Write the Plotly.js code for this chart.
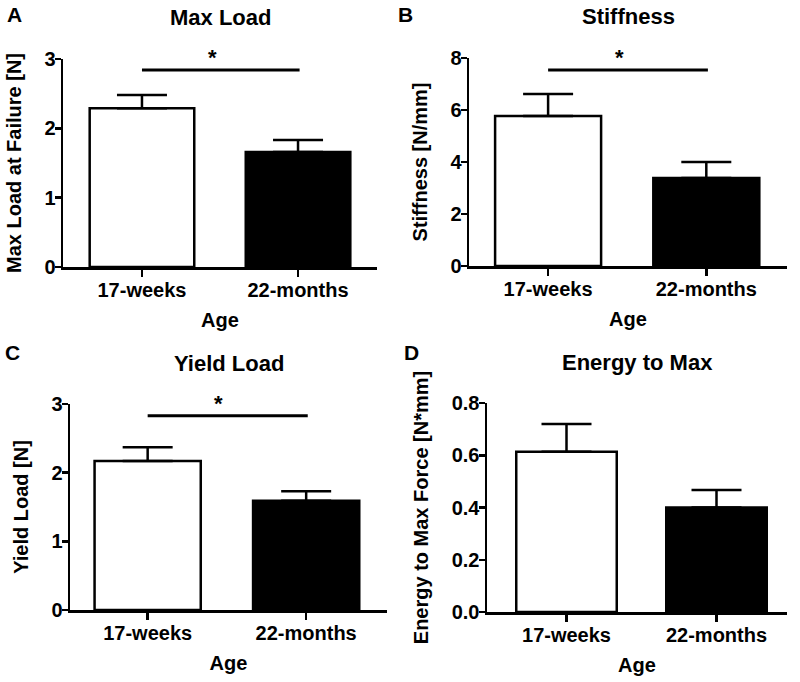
<!DOCTYPE html>
<html>
<head>
<meta charset="utf-8">
<script src="https://cdn.plot.ly/plotly-3.0.1.min.js"></script>
<style>html,body{margin:0;padding:0;background:#fff}#chart{width:800px;height:682px}</style>
</head>
<body>
<div id="chart"></div>
<script>
// ---- data ----
const categories = ['17-weeks', '22-months'];
const barColors = ['#ffffff', '#000000'];

const maxLoad = [2.29, 1.66];
const maxLoadErr = [0.19, 0.17];
const stiffness = [5.77, 3.38];
const stiffnessErr = [0.85, 0.62];
const yieldLoad = [2.17, 1.59];
const yieldLoadErr = [0.20, 0.14];
const energyMax = [0.613, 0.40];
const energyMaxErr = [0.107, 0.067];

const panelLetters = ['A', 'B', 'C', 'D'];
const panelTitles = ['Max Load', 'Stiffness', 'Yield Load', 'Energy to Max'];
const yTitles = ['Max Load at Failure [N]', 'Stiffness [N/mm]', 'Yield Load [N]', 'Energy to Max Force [N*mm]'];
const xTitle = 'Age';
const yTickVals = [[0, 1, 2, 3], [0, 2, 4, 6, 8], [0, 1, 2, 3], [0, 0.2, 0.4, 0.6, 0.8]];
const yTickText = [['0', '1', '2', '3'], ['0', '2', '4', '6', '8'], ['0', '1', '2', '3'], ['0.0', '0.2', '0.4', '0.6', '0.8']];
const yRanges = [[0, 3], [0, 8], [0, 3], [0, 0.8]];
const sigLevels = [2.84, 7.54, 2.83, null];
const sigMark = '*';

// ---- layout helpers ----
const W = 800, H = 682;
const FONT = 'Arial';
const panels = [
  {vals: maxLoad, errs: maxLoadErr, px: [63, 377], py: [59, 267], xr: [-0.506, 1.506], letter: [14, 15]},
  {vals: stiffness, errs: stiffnessErr, px: [469, 787], py: [58, 266], xr: [-0.5, 1.51], letter: [406, 15]},
  {vals: yieldLoad, errs: yieldLoadErr, px: [70, 387], py: [404, 610], xr: [-0.49, 1.51], letter: [12, 352]},
  {vals: energyMax, errs: energyMaxErr, px: [487, 787], py: [403, 612], xr: [-0.53, 1.47], letter: [411, 352]}
];

const traces = [];
const layout = {
  width: W, height: H,
  margin: {l: 0, r: 0, t: 0, b: 0},
  paper_bgcolor: '#fff', plot_bgcolor: '#fff',
  showlegend: false,
  font: {family: FONT, size: 20, color: '#000', weight: 'bold'},
  shapes: [], annotations: []
};

panels.forEach((p, i) => {
  const n = i + 1;
  const xa = 'x' + (n === 1 ? '' : n), ya = 'y' + (n === 1 ? '' : n);
  const xk = 'xaxis' + (n === 1 ? '' : n), yk = 'yaxis' + (n === 1 ? '' : n);
  traces.push({
    type: 'bar', x: [0, 1], y: p.vals, xaxis: xa, yaxis: ya, width: 0.67,
    marker: {color: barColors, line: {color: '#000', width: 2.5}},
    error_y: {type: 'data', array: p.errs, arrayminus: [0, 0], symmetric: false, visible: true,
              color: '#000', thickness: 2.5, width: 25},
    cliponaxis: false, hoverinfo: 'skip'
  });
  layout[xk] = {
    domain: [p.px[0] / W, p.px[1] / W], anchor: ya, range: p.xr,
    tickmode: 'array', tickvals: [0, 1], ticktext: categories,
    showline: true, linewidth: 2.5, linecolor: '#000', mirror: false,
    ticks: 'outside', ticklen: 7, tickwidth: 2.5, tickcolor: '#000',
    ticklabelstandoff: -4,
    showgrid: false, zeroline: false, fixedrange: true,
    tickfont: {family: FONT, size: 20, color: '#000', weight: 'bold'},
    title: {text: xTitle, standoff: 14, font: {family: FONT, size: 20, color: '#000', weight: 'bold'}}
  };
  layout[yk] = {
    domain: [1 - p.py[1] / H, 1 - p.py[0] / H], anchor: xa, range: yRanges[i],
    tickmode: 'array', tickvals: yTickVals[i], ticktext: yTickText[i],
    showline: true, linewidth: 2.5, linecolor: '#000',
    ticks: 'outside', ticklen: 6, tickwidth: 2.5, tickcolor: '#000',
    ticklabelstandoff: -5,
    showgrid: false, zeroline: false, fixedrange: true,
    tickfont: {family: FONT, size: 20, color: '#000', weight: 'bold'},
    title: {text: yTitles[i], standoff: 18, font: {family: FONT, size: 20, color: '#000', weight: 'bold'}}
  };
  // subplot title
  layout.annotations.push({
    text: panelTitles[i], xref: 'paper', yref: 'paper',
    x: (p.px[0] + p.px[1]) / 2 / W, y: 1 - (p.py[0] - 41) / H,
    xanchor: 'center', yanchor: 'middle', showarrow: false,
    font: {family: FONT, size: 22, color: '#000', weight: 'bold'}
  });
  // panel letter
  layout.annotations.push({
    text: panelLetters[i], xref: 'paper', yref: 'paper',
    x: p.letter[0] / W, y: 1 - p.letter[1] / H,
    xanchor: 'center', yanchor: 'middle', showarrow: false,
    font: {family: FONT, size: 21, color: '#000', weight: 'bold'}
  });
  if (sigLevels[i] !== null) {
    layout.shapes.push({
      type: 'line', xref: xa, yref: ya, x0: 0, x1: 1.01, y0: sigLevels[i], y1: sigLevels[i],
      line: {color: '#000', width: 3}
    });
    layout.annotations.push({
      text: sigMark, xref: xa, yref: ya, x: 0.45, y: sigLevels[i],
      xanchor: 'center', yanchor: 'bottom', yshift: -2, showarrow: false,
      font: {family: FONT, size: 22, color: '#000', weight: 'bold'}
    });
  }
});

Plotly.newPlot('chart', traces, layout, {staticPlot: true, displayModeBar: false});
</script>
</body>
</html>
